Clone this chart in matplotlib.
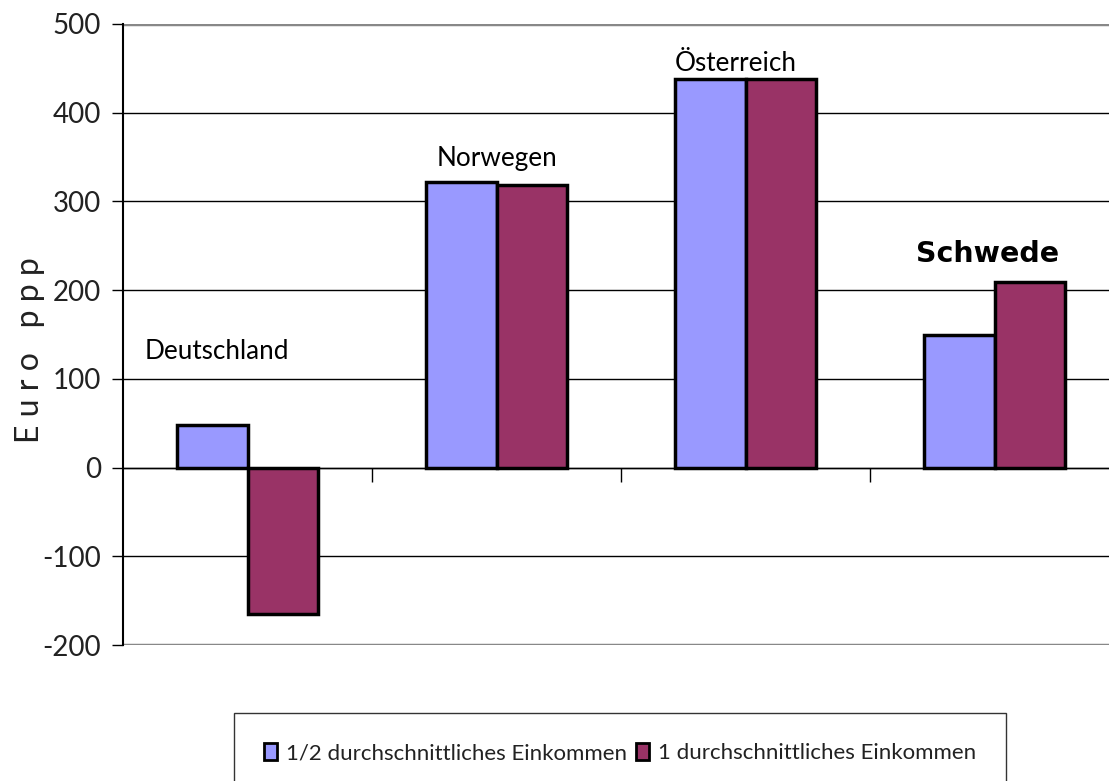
import matplotlib.pyplot as plt
import numpy as np
from matplotlib.patches import Patch

# Daten
laender = ["Deutschland", "Norwegen", "Österreich", "Schwede"]
halb_einkommen = [48, 322, 438, 149]
voll_einkommen = [-165, 318, 438, 209]
serien_namen = ["1/2 durchschnittliches Einkommen", "1 durchschnittliches Einkommen"]
label_hoehe = [131, 348, 456, 241]
y_ticks = [-200, -100, 0, 100, 200, 300, 400, 500]

farbe_blau = "#9999FF"
farbe_rot = "#993366"

plt.rcParams['font.family'] = ['Lato', 'DejaVu Sans']

fig = plt.figure(figsize=(11.09, 7.81), dpi=100)
ax = fig.add_axes([123 / 1109, (781 - 645) / 781, 996 / 1109, 621 / 781])

x = np.arange(len(laender))
breite = 0.285
ax.bar(x - breite / 2, halb_einkommen, breite, color=farbe_blau, edgecolor="black", linewidth=2.5, zorder=3)
ax.bar(x + breite / 2, voll_einkommen, breite, color=farbe_rot, edgecolor="black", linewidth=2.5, zorder=3)

# Laendernamen ueber den Balken (leicht nach links versetzt wie im Original)
versatz = [-0.125, 0.0, -0.04, -0.026]
for i, name in enumerate(laender):
    if name == "Schwede":
        ax.text(x[i] + versatz[i], label_hoehe[i], name, ha="center", va="center", fontsize=20.5,
                fontweight="bold", family=['DejaVu Sans'], zorder=4)
    else:
        ax.text(x[i] + versatz[i], label_hoehe[i], name, ha="center", va="center", fontsize=18.8, zorder=4)

ax.set_xlim(-0.5, 3.5)
ax.set_ylim(-200, 500)
ax.set_yticks(y_ticks)
ax.set_yticklabels([str(t) for t in y_ticks], fontsize=20, color="#222222")
ax.tick_params(axis="y", direction="out", length=8, width=1, pad=8)

# Gitterlinien
for t in y_ticks:
    if t in (-200, 500):
        ax.axhline(t, color="#888888", linewidth=2.5, zorder=1)
    else:
        ax.axhline(t, color="black", linewidth=1, zorder=1)

for s in ["top", "right"]:
    ax.spines[s].set_visible(False)
ax.spines["left"].set_linewidth(1.5)
ax.spines["bottom"].set_position(("data", 0))
ax.spines["bottom"].set_linewidth(1)
ax.set_xticks([0.5, 1.5, 2.5])
ax.set_xticklabels(["", "", ""])
ax.tick_params(axis="x", direction="out", length=10, width=1)

fig.text(30 / 1109, 1 - 350 / 781, "E u r o   p p p", rotation=90, fontsize=23,
         color="#222222", ha="center", va="center")

handles = [Patch(facecolor=farbe_blau, edgecolor="black", linewidth=2),
           Patch(facecolor=farbe_rot, edgecolor="black", linewidth=2)]
leg = fig.legend(handles, serien_namen, loc="upper left", bbox_to_anchor=(234 / 1109, 1 - 713 / 781),
                 ncol=2, fontsize=16, frameon=True, fancybox=False, edgecolor="black",
                 handlelength=0.6, handleheight=0.8, handletextpad=0.4, columnspacing=0.4,
                 borderpad=1.35, borderaxespad=0)
for t in leg.get_texts():
    t.set_color("#222222")
leg.get_frame().set_linewidth(1)

fig.savefig("out.png", dpi=100)
